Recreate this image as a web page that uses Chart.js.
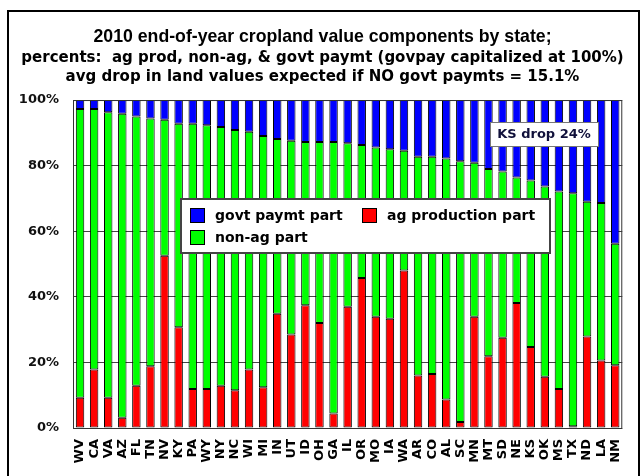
<!DOCTYPE html>
<html>
<head>
<meta charset="utf-8">
<script src="https://cdn.jsdelivr.net/npm/chart.js@4.4.1/dist/chart.umd.min.js"></script>
<style>
    html, body { margin: 0; padding: 0; background: #fff; }
</style>
</head>
<body>
<canvas id="cropChart" width="642" height="476"></canvas>
<script>
// state order as in the chart (sorted by govt share)
const states = ["WV","CA","VA","AZ","FL","TN","NV","KY","PA","WY","NY","NC","WI","MI","IN","UT","ID","OH","GA","IL",
    "OR","MO","IA","WA","AR","CO","AL","SC","MN","MT","SD","NE","KS","OK","MS","TX","ND","LA","NM"];

// percents of land value
const agProd = [9.2,17.8,9.2,3.1,12.9,18.8,52.5,30.7,11.9,11.9,12.9,11.5,17.8,12.4,34.8,28.5,37.4,32.0,4.4,37.0,
    45.7,33.9,33.3,48.0,16.0,16.5,8.7,1.8,33.9,21.9,27.5,38.1,24.7,15.6,11.9,0.5,27.9,20.6,19.1];
const nonAg = [88.1,79.5,87.1,92.7,82.1,75.6,41.5,62.1,80.9,80.4,78.9,79.4,72.5,76.6,53.3,59.1,49.8,55.2,82.8,49.8,
    40.6,51.6,51.7,36.5,66.7,66.2,73.5,79.5,47.0,57.1,50.7,38.3,50.8,58.0,60.2,71.1,41.1,48.0,37.1];
const govPay = [2.7,2.7,3.7,4.2,5.0,5.6,6.0,7.2,7.2,7.7,8.2,9.1,9.7,11.0,11.9,12.4,12.8,12.8,12.8,13.2,
    13.7,14.5,15.0,15.5,17.3,17.3,17.8,18.7,19.1,21.0,21.8,23.6,24.5,26.4,27.9,28.4,31.0,31.4,43.8];

const yMin = 0;
const yMax = 100;
const yStep = 20;

const titleLines = ["2010 end-of-year cropland value components by state;"];
const subtitleLines = [
    "percents:  ag prod, non-ag, & govt paymt (govpay capitalized at 100%)",
    "avg drop in land values expected if NO govt paymts = 15.1%"
];
const legendItems = [
    { text: "govt paymt part", color: "#0000ff" },
    { text: "ag production part", color: "#ff0000" },
    { text: "non-ag part", color: "#00ff00" }
];
const noteText = "KS drop 24%";

const FONT = "'Liberation Sans', Arial, sans-serif";
const WIDE = "'DejaVu Sans', Verdana, sans-serif";

// frame, plot border, legend box and the KS note
const extras = {
    id: "extras",
    beforeDraw(chart) {
        const ctx = chart.ctx;
        ctx.save();
        ctx.fillStyle = "#fff";
        ctx.fillRect(0, 0, chart.width, chart.height);
        ctx.strokeStyle = "#000";
        ctx.lineWidth = 2;
        ctx.strokeRect(8, 11, 631, 480);
        ctx.restore();
    },
    afterDraw(chart) {
        const ctx = chart.ctx;
        const a = chart.chartArea;
        ctx.save();
        ctx.strokeStyle = "#333";
        ctx.lineWidth = 1;
        ctx.strokeRect(a.left + 0.5, a.top + 0.5, a.right - a.left - 1, a.bottom - a.top);

        // legend
        ctx.fillStyle = "#fff";
        ctx.fillRect(181, 199, 369, 54);
        ctx.strokeStyle = "#444";
        ctx.lineWidth = 2;
        ctx.strokeRect(181, 199, 369, 54);
        const spots = [[190, 208], [362, 208], [190, 230]];
        ctx.font = "bold 14px " + WIDE;
        ctx.textBaseline = "middle";
        legendItems.forEach((item, i) => {
            const [x, y] = spots[i];
            ctx.fillStyle = item.color;
            ctx.fillRect(x, y, 14, 14);
            ctx.strokeStyle = "#000";
            ctx.lineWidth = 1;
            ctx.strokeRect(x + 0.5, y + 0.5, 14, 14);
            ctx.fillStyle = "#000";
            ctx.fillText(item.text, x + 25, y + 8);
        });

        // KS note
        ctx.fillStyle = "#fff";
        ctx.fillRect(490, 122, 108, 24);
        ctx.strokeStyle = "#777";
        ctx.lineWidth = 1;
        ctx.strokeRect(490.5, 122.5, 108, 24);
        ctx.font = "bold 13px " + WIDE;
        ctx.fillStyle = "#10103a";
        ctx.textAlign = "center";
        ctx.fillText(noteText, 544, 135);
        ctx.restore();
    }
};

const ctx = document.getElementById("cropChart").getContext("2d");
new Chart(ctx, {
    type: "bar",
    data: {
        labels: states,
        datasets: [
            { label: "ag production part", data: agProd, backgroundColor: "#ff0000" },
            { label: "non-ag part", data: nonAg, backgroundColor: "#00ff00" },
            { label: "govt paymt part", data: govPay, backgroundColor: "#0000ff" }
        ].map((ds) => ({
            ...ds,
            borderColor: "#000",
            borderWidth: 1,
            borderSkipped: false,
            barPercentage: 0.6,
            categoryPercentage: 1.0
        }))
    },
    options: {
        responsive: false,
        animation: false,
        layout: { padding: { left: 16, right: 13, top: 0, bottom: 0 } },
        plugins: {
            legend: { display: false },
            tooltip: { enabled: false },
            title: {
                display: true,
                text: titleLines,
                color: "#000",
                font: { family: FONT, size: 17.7, weight: "bold", lineHeight: 1.2 },
                padding: { top: 26.4, bottom: 0.9 }
            },
            subtitle: {
                display: true,
                text: subtitleLines,
                color: "#000",
                font: { family: WIDE, size: 15, weight: "bold", lineHeight: 1.2667 },
                padding: { top: 0, bottom: 13.5 }
            }
        },
        scales: {
            x: {
                stacked: true,
                grid: { display: false, drawTicks: false },
                border: { display: false },
                ticks: {
                    autoSkip: false,
                    minRotation: 90,
                    maxRotation: 90,
                    padding: 11,
                    color: "#000",
                    font: { family: WIDE, size: 13, weight: "bold" }
                },
                afterFit(scale) { scale.height = 48; }
            },
            y: {
                stacked: true,
                min: yMin,
                max: yMax,
                grid: { color: "#444", lineWidth: 1, drawTicks: false },
                border: { display: false },
                ticks: {
                    stepSize: yStep,
                    padding: 14,
                    color: "#111",
                    font: { family: WIDE, size: 13, weight: "bold" },
                    callback: (v) => v + "%"
                },
                afterFit(scale) { scale.width = 57; }
            }
        }
    },
    plugins: [extras]
});
</script>
</body>
</html>
